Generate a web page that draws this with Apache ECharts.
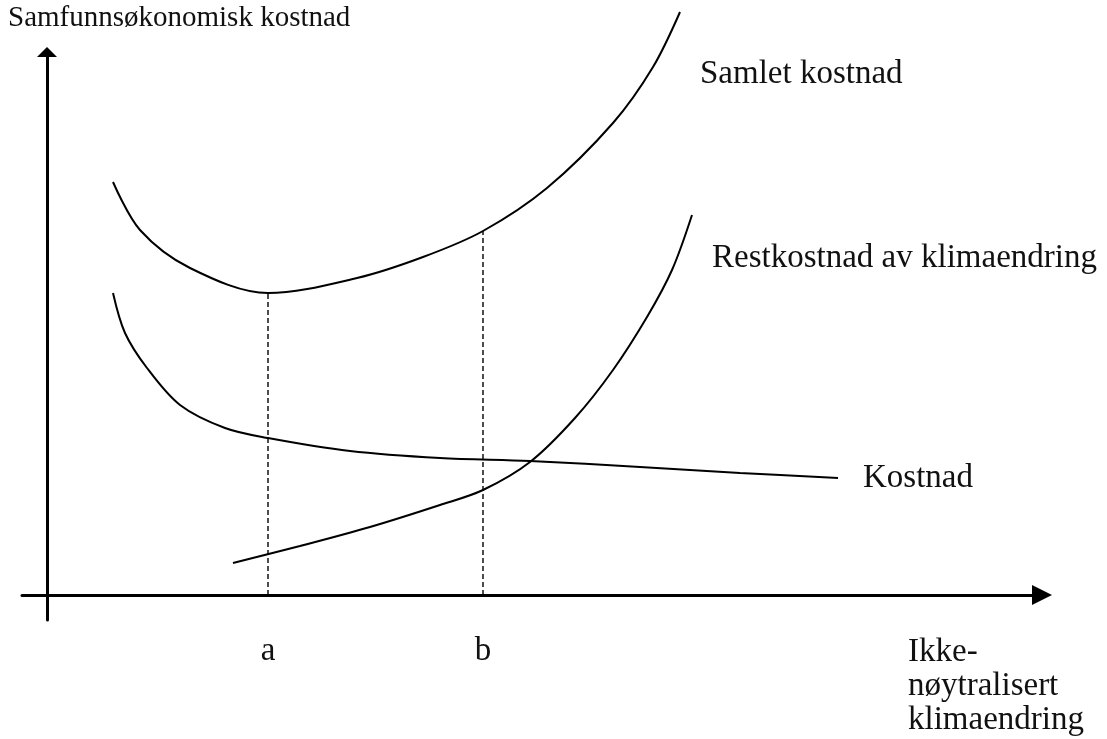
<!DOCTYPE html>
<html>
<head>
<meta charset="utf-8">
<title>Samfunnsøkonomisk kostnad</title>
<script src="https://cdn.jsdelivr.net/npm/echarts@6/dist/echarts.min.js"></script>
<style>
  html, body {
    margin: 0;
    padding: 0;
    background: #fff;
  }
  #my-chart {
    width: 1107px;
    height: 739px;
  }
</style>
</head>
<body>
<div id="my-chart"></div>
<script>
// kurver lest av figuren (x = klimaendring, y = kostnad)
const samletX = [66, 93, 143, 221, 310, 376, 436, 500, 566, 606, 633]
const samletY = [413, 365, 327, 302, 317, 338, 364, 407, 472, 528, 583]

const kostnadX = [66, 78, 100, 133, 178, 221, 303, 393, 483, 593, 693, 791]
const kostnadY = [302, 262, 227, 190, 167, 157, 144, 137, 134, 128, 122, 117]

const restX = [186, 253, 323, 393, 436, 483, 528, 566, 600, 625, 645]
const restY = [32, 49, 68, 90, 105, 133, 177, 225, 278, 325, 380]

// a og b: minimum og punktet b på samlet kostnad
const markX = [221, 436]
const markTop = [302, 364]
const markNames = ['a', 'b']

const zip = (xs, ys) => xs.map((x, i) => [x, ys[i]])

const curveStyle = {
  type: 'line',
  showSymbol: false,
  smooth: 0.33,
  clip: false,
  silent: true,
  lineStyle: { color: '#000', width: 2 }
}

const serif = '"Liberation Serif", "Times New Roman", serif'

const dashed = markX.map((x, i) => ({
  type: 'line',
  showSymbol: false,
  silent: true,
  data: [[x, 0], [x, markTop[i]]],
  lineStyle: { color: '#000', width: 1.4, type: [5, 3] }
}))

const option = {
  animation: false,
  backgroundColor: '#fff',
  grid: {
    left: 22,
    right: 65,
    top: 52,
    bottom: 119
  },
  xAxis: {
    type: 'value',
    min: -25,
    max: 995,
    splitLine: { show: false },
    axisTick: { show: false },
    axisLine: {
      onZero: true,
      symbol: ['none', 'triangle'],
      symbolSize: [20, 20],
      lineStyle: { color: '#000', width: 3 }
    },
    axisLabel: {
      customValues: markX,
      formatter: (v) => markNames[markX.indexOf(v)] || '',
      margin: 31,
      verticalAlign: 'middle',
      color: '#111',
      fontFamily: serif,
      fontSize: 33
    }
  },
  yAxis: {
    type: 'value',
    min: -25,
    max: 543,
    splitLine: { show: false },
    axisTick: { show: false },
    axisLabel: { show: false },
    axisLine: {
      onZero: true,
      symbol: ['none', 'triangle'],
      symbolSize: [20, 10],
      lineStyle: { color: '#000', width: 3 }
    }
  },
  graphic: [
    { type: 'text', x: 8, y: 18, style: { text: 'Samfunnsøkonomisk kostnad', font: '29px ' + serif, fill: '#111', textVerticalAlign: 'middle' } },
    { type: 'text', x: 700, y: 74, style: { text: 'Samlet kostnad', font: '33px ' + serif, fill: '#111', textVerticalAlign: 'middle' } },
    { type: 'text', x: 712, y: 258, style: { text: 'Restkostnad av klimaendring', font: '33px ' + serif, fill: '#111', textVerticalAlign: 'middle' } },
    { type: 'text', x: 863, y: 478, style: { text: 'Kostnad', font: '33px ' + serif, fill: '#111', textVerticalAlign: 'middle' } },
    { type: 'text', x: 908, y: 686, style: { text: 'Ikke-\nnøytralisert\nklimaendring', font: '33px ' + serif, lineHeight: 34, fill: '#111', textVerticalAlign: 'middle' } }
  ],
  series: [
    { ...curveStyle, name: 'Samlet kostnad', data: zip(samletX, samletY) },
    { ...curveStyle, name: 'Kostnad', data: zip(kostnadX, kostnadY) },
    { ...curveStyle, name: 'Restkostnad av klimaendring', data: zip(restX, restY) },
    ...dashed
  ]
}

const myChart = echarts.init(document.getElementById('my-chart'))
myChart.setOption(option)
window.addEventListener('resize', () => {
  myChart.resize()
})
</script>
</body>
</html>
